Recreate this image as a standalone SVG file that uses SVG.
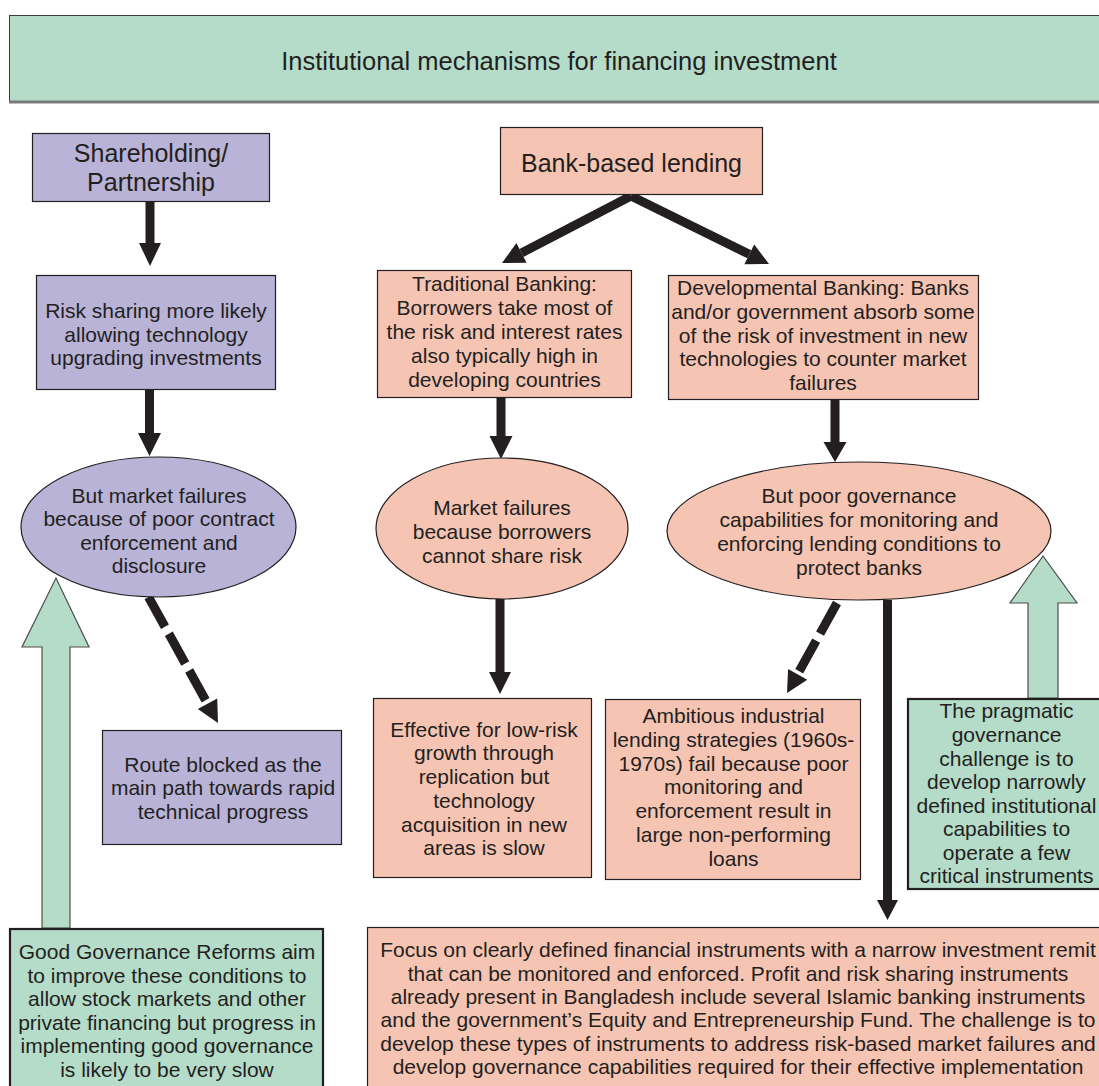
<svg xmlns="http://www.w3.org/2000/svg" width="1099" height="1086" viewBox="0 0 1099 1086">
<style>
text{font-family:"Liberation Sans",Arial,Helvetica,sans-serif;fill:#231f20;text-anchor:middle;font-size:21px}
.big{font-size:25px}
.title{font-size:25.5px}
.g{fill:#b4dcc9}
.p{fill:#b9b3d8}
.s{fill:#f5c4b3}
.bx{stroke:#231f20;stroke-width:1.2}
.thick{stroke:#231f20;stroke-width:2.2}
.blk{fill:#231f20}
.shaft{stroke:#231f20;stroke-width:9;fill:none}
.dash{stroke:#231f20;stroke-width:9;fill:none}
.blockarrow{fill:#b4dcc9;stroke:#4d4d4d;stroke-width:1.2}
</style>
<rect width="1099" height="1086" fill="#ffffff"/>

<g id="title">
<rect x="9.5" y="15.5" width="1100" height="86" class="g" stroke="#3a3a3a" stroke-width="1"/>
<line x1="9" y1="102" x2="1099" y2="102" stroke="#7a7a7a" stroke-width="3"/>
<text class="title" x="559" y="69.5">Institutional mechanisms for financing investment</text>
</g>

<g id="connectors">
<!-- Shareholding -> Risk sharing -->
<line class="shaft" x1="150" y1="202" x2="150" y2="244"/>
<polygon class="blk" points="139,243 161,243 150,266"/>
<!-- Risk sharing -> market failures ellipse -->
<line class="shaft" x1="149.5" y1="390" x2="149.5" y2="434"/>
<polygon class="blk" points="138,433 161,433 149.5,456"/>
<!-- left ellipse -> route blocked (dashed) -->
<line class="dash" x1="148.5" y1="597" x2="207.5" y2="703.7" stroke-dasharray="34 8"/>
<polygon class="blk" points="218,723 197.8,709 217.2,698.4"/>
<!-- Bank -> Traditional -->
<line class="shaft" x1="631" y1="196" x2="521.5" y2="252.9"/>
<polygon class="blk" points="502,263 516.4,243.1 526.6,262.7"/>
<!-- Bank -> Developmental -->
<line class="shaft" x1="631" y1="196" x2="749.3" y2="254.3"/>
<polygon class="blk" points="769,264 744.4,264.2 754.2,244.4"/>
<!-- Traditional -> middle ellipse -->
<line class="shaft" x1="501" y1="398" x2="501" y2="437"/>
<polygon class="blk" points="489.5,436 512.5,436 501,459"/>
<!-- Developmental -> right ellipse -->
<line class="shaft" x1="835" y1="400" x2="835" y2="443"/>
<polygon class="blk" points="823.5,442 846.5,442 835,462"/>
<!-- middle ellipse -> Effective -->
<line class="shaft" x1="500" y1="599" x2="500" y2="673"/>
<polygon class="blk" points="489,672 511,672 500,694"/>
<!-- right ellipse -> Ambitious (dashed) -->
<line class="dash" x1="837" y1="603" x2="797.7" y2="674" stroke-dasharray="35 8"/>
<polygon class="blk" points="787,693 788.1,669.1 807.3,679.7"/>
<!-- right ellipse -> Focus -->
<line class="shaft" x1="887.5" y1="600" x2="887.5" y2="901"/>
<polygon class="blk" points="877,900 898,900 887.5,920"/>
<!-- green block arrows -->
<polygon class="blockarrow" points="42,928 42,647 22,647 56,578 89,647 70,647 70,928"/>
<polygon class="blockarrow" points="1028,698 1028,603 1010,603 1043,556 1077,603 1058,603 1058,698"/>
</g>

<g id="shareholding">
<rect x="32.5" y="133.5" width="237" height="68" class="p bx"/>
<text class="big" x="151" y="162">Shareholding/</text>
<text class="big" x="151" y="191">Partnership</text>
</g>

<g id="risk-sharing">
<rect x="36.5" y="275.5" width="239" height="114" class="p bx"/>
<text x="156" y="318">Risk sharing more likely</text>
<text x="156" y="341.6">allowing technology</text>
<text x="156" y="365.2">upgrading investments</text>
</g>

<g id="market-failures-left">
<ellipse cx="158.5" cy="527" rx="137.5" ry="70" class="p bx" stroke-width="1.5"/>
<text x="159" y="502.5">But market failures</text>
<text x="159" y="526">because of poor contract</text>
<text x="159" y="549.5">enforcement and</text>
<text x="159" y="573">disclosure</text>
</g>

<g id="route-blocked">
<rect x="102.5" y="730.5" width="239" height="114" class="p bx"/>
<text x="223" y="771.5">Route blocked as the</text>
<text x="223" y="795">main path towards rapid</text>
<text x="223" y="818.5">technical progress</text>
</g>

<g id="bank-based">
<rect x="500.5" y="127.5" width="262" height="67" class="s bx"/>
<text class="big" x="631.5" y="172">Bank-based lending</text>
</g>

<g id="traditional">
<rect x="377.5" y="270.5" width="254" height="127" class="s bx"/>
<text x="504.5" y="290.5">Traditional Banking:</text>
<text x="504.5" y="314.5">Borrowers take most of</text>
<text x="504.5" y="338.5">the risk and interest rates</text>
<text x="504.5" y="362.5">also typically high in</text>
<text x="504.5" y="386.5">developing countries</text>
</g>

<g id="developmental">
<rect x="668.5" y="275.5" width="310" height="124" class="s bx"/>
<text x="823" y="295">Developmental Banking: Banks</text>
<text x="823" y="318.75">and/or government absorb some</text>
<text x="823" y="342.5">of the risk of investment in new</text>
<text x="823" y="366.25">technologies to counter market</text>
<text x="823" y="390">failures</text>
</g>

<g id="market-failures-mid">
<ellipse cx="502" cy="528.5" rx="126" ry="70.5" class="s bx" stroke-width="1.5"/>
<text x="502" y="515">Market failures</text>
<text x="502" y="539">because borrowers</text>
<text x="502" y="562.5">cannot share risk</text>
</g>

<g id="poor-governance">
<ellipse cx="859" cy="531" rx="192" ry="69" class="s bx" stroke-width="1.5"/>
<text x="859" y="503">But poor governance</text>
<text x="859" y="527">capabilities for monitoring and</text>
<text x="859" y="551">enforcing lending conditions to</text>
<text x="859" y="575">protect banks</text>
</g>

<g id="effective">
<rect x="373.5" y="698.5" width="218" height="179" class="s bx"/>
<text x="484" y="736.5">Effective for low-risk</text>
<text x="484" y="760.3">growth through</text>
<text x="484" y="784">replication but</text>
<text x="484" y="807.8">technology</text>
<text x="484" y="831.6">acquisition in new</text>
<text x="484" y="855.4">areas is slow</text>
</g>

<g id="ambitious">
<rect x="605.5" y="699.5" width="255" height="180" class="s bx"/>
<text x="733.5" y="723.3">Ambitious industrial</text>
<text x="733.5" y="747">lending strategies (1960s-</text>
<text x="733.5" y="770.7">1970s) fail because poor</text>
<text x="733.5" y="794.4">monitoring and</text>
<text x="733.5" y="818.1">enforcement result in</text>
<text x="733.5" y="841.8">large non-performing</text>
<text x="733.5" y="865.5">loans</text>
</g>

<g id="pragmatic">
<rect x="908" y="699" width="200" height="190" class="g thick"/>
<text x="1006.5" y="718.3">The pragmatic</text>
<text x="1006.5" y="741.9">governance</text>
<text x="1006.5" y="765.5">challenge is to</text>
<text x="1006.5" y="789">develop narrowly</text>
<text x="1006.5" y="812.6">defined institutional</text>
<text x="1006.5" y="836.2">capabilities to</text>
<text x="1006.5" y="859.8">operate a few</text>
<text x="1006.5" y="883.3">critical instruments</text>
</g>

<g id="good-governance">
<rect x="10" y="929" width="313" height="170" class="g thick"/>
<text x="167" y="959">Good Governance Reforms aim</text>
<text x="167" y="982.5">to improve these conditions to</text>
<text x="167" y="1006">allow stock markets and other</text>
<text x="167" y="1029.5">private financing but progress in</text>
<text x="167" y="1053">implementing good governance</text>
<text x="167" y="1076.6">is likely to be very slow</text>
</g>

<g id="focus">
<rect x="367.5" y="927.5" width="745" height="170" class="s bx" stroke-width="1.5"/>
<text x="738" y="957.3">Focus on clearly defined financial instruments with a narrow investment remit</text>
<text x="738" y="980.7">that can be monitored and enforced. Profit and risk sharing instruments</text>
<text x="738" y="1004">already present in Bangladesh include several Islamic banking instruments</text>
<text x="738" y="1027.3">and the government’s Equity and Entrepreneurship Fund. The challenge is to</text>
<text x="738" y="1050.7">develop these types of instruments to address risk-based market failures and</text>
<text x="738" y="1074">develop governance capabilities required for their effective implementation</text>
</g>
</svg>
